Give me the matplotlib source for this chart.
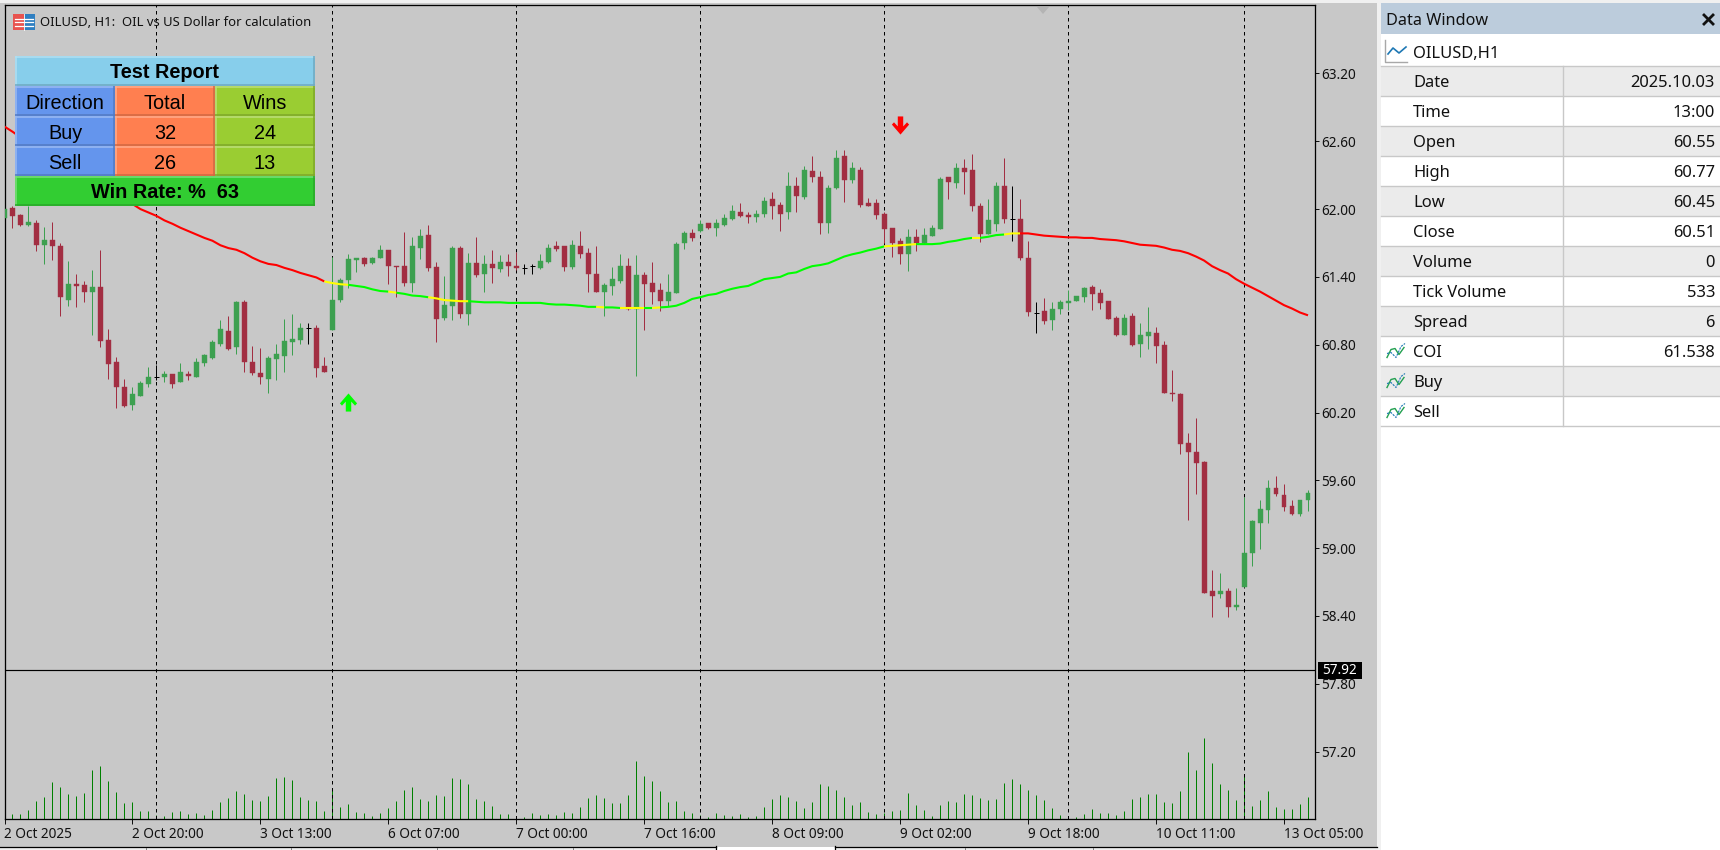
import numpy as np
import matplotlib
matplotlib.use('Agg')
from matplotlib import pyplot as plt
from matplotlib.colors import to_rgb
from matplotlib.path import Path
from matplotlib.patches import Rectangle, Polygon

# hourly bars, one per slot
open_prices = [
    61.92, 62.01, 61.95, 61.86, 61.88, 61.68, 61.73, 61.67, 61.20, 61.34,
    61.33, 61.27, 61.31, 60.84, 60.65, 60.43, 60.27, 60.35, 60.45, 60.51,
    60.51, 60.54, 60.47, 60.54, 60.51, 60.64, 60.68, 60.81, 60.92, 60.78,
    61.18, 60.65, 60.55, 60.50, 60.67, 60.70, 60.82, 60.84, 60.95, 60.95,
    60.61, 60.93, 61.20, 61.37, 61.55, 61.57, 61.52, 61.57, 61.64, 61.50,
    61.50, 61.35, 61.66, 61.77, 61.49, 61.04, 61.14, 61.66, 61.07, 61.52,
    61.43, 61.51, 61.47, 61.53, 61.50, 61.48, 61.50, 61.48, 61.53, 61.67,
    61.67, 61.49, 61.67, 61.61, 61.43, 61.27, 61.32, 61.36, 61.50, 61.12,
    61.42, 61.35, 61.28, 61.19, 61.26, 61.70, 61.79, 61.81, 61.88, 61.83,
    61.86, 61.91, 61.97, 61.95, 61.93, 61.96, 62.09, 62.04, 61.97, 62.20,
    62.11, 62.34, 62.28, 61.88, 62.19, 62.47, 62.26, 62.35, 62.05, 62.05,
    61.96, 61.83, 61.72, 61.60, 61.75, 61.70, 61.76, 61.82, 62.28, 62.23,
    62.36, 62.35, 62.03, 61.78, 61.87, 62.20, 61.91, 61.91, 61.57, 61.08,
    61.10, 61.02, 61.12, 61.17, 61.19, 61.22, 61.31, 61.26, 61.19, 61.04,
    60.89, 61.05, 60.81, 60.88, 60.90, 60.80, 60.37, 60.36, 59.93, 59.85,
    59.76, 58.62, 58.59, 58.62, 58.48, 58.66, 58.96, 59.22, 59.34, 59.53,
    59.47, 59.37, 59.30, 59.43]
close_prices = [
    62.00, 61.94, 61.86, 61.89, 61.68, 61.73, 61.67, 61.22, 61.34, 61.32,
    61.27, 61.31, 60.83, 60.63, 60.43, 60.26, 60.36, 60.46, 60.51, 60.51,
    60.54, 60.45, 60.56, 60.52, 60.65, 60.71, 60.82, 60.94, 60.76, 61.18,
    60.65, 60.55, 60.51, 60.68, 60.72, 60.83, 60.85, 60.95, 60.95, 60.59,
    60.56, 61.20, 61.37, 61.56, 61.57, 61.51, 61.57, 61.64, 61.50, 61.49,
    61.35, 61.67, 61.76, 61.48, 61.03, 61.15, 61.66, 61.07, 61.52, 61.42,
    61.51, 61.48, 61.53, 61.50, 61.48, 61.48, 61.50, 61.54, 61.66, 61.65,
    61.49, 61.68, 61.60, 61.43, 61.27, 61.33, 61.38, 61.50, 61.12, 61.42,
    61.34, 61.27, 61.19, 61.27, 61.69, 61.79, 61.74, 61.87, 61.83, 61.88,
    61.92, 61.98, 61.94, 61.93, 61.96, 62.07, 62.03, 61.96, 62.20, 62.12,
    62.35, 62.28, 61.88, 62.19, 62.45, 62.26, 62.36, 62.04, 62.03, 61.95,
    61.82, 61.70, 61.60, 61.75, 61.70, 61.77, 61.83, 62.27, 62.24, 62.36,
    62.33, 62.03, 61.78, 61.90, 62.20, 61.91, 61.91, 61.57, 61.09, 61.08,
    61.01, 61.12, 61.18, 61.19, 61.23, 61.30, 61.25, 61.17, 61.03, 60.89,
    61.04, 60.80, 60.89, 60.91, 60.79, 60.37, 60.36, 59.92, 59.85, 59.75,
    58.60, 58.58, 58.62, 58.48, 58.50, 58.96, 59.24, 59.35, 59.53, 59.48,
    59.36, 59.30, 59.43, 59.49]
high_prices = [
    62.02, 62.03, 61.96, 62.03, 61.90, 61.84, 61.89, 61.70, 61.54, 61.43,
    61.36, 61.46, 61.64, 60.94, 60.69, 60.50, 60.43, 60.48, 60.60, 60.62,
    60.57, 60.54, 60.64, 60.57, 60.68, 60.72, 60.84, 61.02, 61.05, 61.19,
    61.20, 60.79, 60.77, 60.70, 60.81, 61.03, 61.07, 60.99, 60.99, 60.97,
    60.69, 61.58, 61.39, 61.60, 61.57, 61.58, 61.58, 61.68, 61.64, 61.50,
    61.80, 61.75, 61.82, 61.86, 61.53, 61.41, 61.67, 61.67, 61.61, 61.75,
    61.59, 61.64, 61.59, 61.60, 61.62, 61.51, 61.51, 61.60, 61.69, 61.72,
    61.67, 61.73, 61.81, 61.66, 61.67, 61.35, 61.49, 61.60, 61.57, 61.59,
    61.44, 61.53, 61.35, 61.43, 61.71, 61.81, 61.82, 61.90, 61.88, 61.91,
    61.96, 62.04, 62.05, 61.97, 61.99, 62.11, 62.15, 62.06, 62.33, 62.28,
    62.38, 62.47, 62.34, 62.21, 62.52, 62.52, 62.42, 62.37, 62.10, 62.09,
    61.97, 61.83, 61.74, 61.82, 61.82, 61.83, 61.86, 62.28, 62.28, 62.41,
    62.44, 62.49, 62.05, 62.09, 62.24, 62.45, 62.20, 62.09, 61.72, 61.18,
    61.21, 61.18, 61.20, 61.28, 61.23, 61.31, 61.33, 61.29, 61.19, 61.05,
    61.07, 61.08, 60.99, 61.13, 60.96, 60.83, 60.58, 60.37, 60.02, 60.15,
    59.77, 58.81, 58.78, 58.65, 58.65, 59.45, 59.25, 59.43, 59.60, 59.64,
    59.57, 59.43, 59.43, 59.51]
low_prices = [
    61.92, 61.83, 61.85, 61.85, 61.63, 61.51, 61.55, 61.05, 61.14, 61.13,
    61.18, 60.89, 60.78, 60.50, 60.24, 60.25, 60.22, 60.35, 60.43, 60.49,
    60.47, 60.42, 60.47, 60.49, 60.51, 60.61, 60.67, 60.79, 60.75, 60.72,
    60.56, 60.53, 60.45, 60.37, 60.49, 60.56, 60.71, 60.81, 60.81, 60.51,
    60.56, 60.93, 61.18, 61.30, 61.44, 61.50, 61.51, 61.57, 61.34, 61.22,
    61.32, 61.27, 61.56, 61.45, 60.82, 61.02, 61.02, 61.04, 60.97, 61.40,
    61.27, 61.35, 61.44, 61.41, 61.46, 61.43, 61.43, 61.47, 61.52, 61.63,
    61.45, 61.47, 61.57, 61.27, 61.27, 61.05, 61.24, 61.35, 61.11, 60.52,
    60.93, 61.16, 61.10, 61.14, 61.26, 61.65, 61.72, 61.80, 61.82, 61.76,
    61.85, 61.90, 61.93, 61.88, 61.89, 61.93, 61.91, 61.81, 61.91, 61.97,
    62.09, 62.24, 61.78, 61.79, 62.18, 62.06, 62.23, 62.02, 62.03, 61.91,
    61.70, 61.58, 61.51, 61.45, 61.63, 61.69, 61.76, 61.82, 62.09, 62.19,
    62.13, 61.98, 61.71, 61.78, 61.81, 61.88, 61.72, 61.55, 61.05, 60.90,
    60.98, 60.93, 61.07, 61.11, 61.19, 61.18, 61.11, 61.12, 61.03, 60.88,
    60.89, 60.79, 60.69, 60.76, 60.64, 60.37, 60.30, 59.83, 59.25, 59.48,
    58.60, 58.39, 58.56, 58.39, 58.45, 58.66, 58.84, 58.99, 59.22, 59.46,
    59.33, 59.29, 59.28, 59.33]
tick_volume = [
    110, 155, 155, 272, 533, 650, 1086, 941, 737, 679,
    766, 1436, 1552, 1116, 795, 475, 504, 243, 243, 126,
    97, 213, 243, 155, 184, 126, 272, 504, 621, 825,
    737, 563, 533, 679, 1203, 1232, 1145, 650, 563, 533,
    243, 854, 359, 446, 213, 184, 97, 184, 330, 533,
    854, 941, 592, 533, 708, 679, 1203, 1174, 1028, 592,
    533, 388, 155, 155, 97, 68, 184, 126, 155, 126,
    213, 184, 359, 621, 708, 621, 475, 475, 708, 1698,
    1261, 1116, 825, 504, 533, 243, 184, 126, 68, 184,
    126, 97, 155, 68, 97, 359, 592, 708, 650, 533,
    330, 504, 1028, 970, 854, 650, 417, 504, 213, 155,
    184, 243, 272, 766, 417, 272, 97, 417, 533, 504,
    737, 708, 621, 563, 592, 1057, 1174, 1028, 854, 708,
    563, 330, 126, 97, 68, 155, 301, 184, 184, 126,
    243, 592, 650, 737, 737, 504, 475, 825, 1959, 1436,
    2367, 1639, 1028, 854, 563, 1319, 388, 563, 825, 359,
    301, 301, 446, 650]
coi_values = [
    62.73, 62.685, 62.635, 62.59, 62.55, 62.50, 62.46, 62.42, 62.37, 62.33,
    62.29, 62.24, 62.20, 62.16, 62.11, 62.07, 62.045, 62.00, 61.97, 61.94,
    61.90, 61.87, 61.835, 61.805, 61.775, 61.745, 61.72, 61.68, 61.655, 61.64,
    61.61, 61.57, 61.538, 61.515, 61.505, 61.48, 61.46, 61.435, 61.415, 61.395,
    61.36, 61.345, 61.335, 61.33, 61.32, 61.31, 61.29, 61.275, 61.27, 61.26,
    61.25, 61.235, 61.23, 61.22, 61.21, 61.195, 61.19, 61.185, 61.185, 61.18,
    61.175, 61.175, 61.175, 61.17, 61.17, 61.17, 61.17, 61.17, 61.16, 61.155,
    61.155, 61.15, 61.145, 61.135, 61.135, 61.13, 61.13, 61.125, 61.125, 61.125,
    61.125, 61.125, 61.13, 61.135, 61.145, 61.17, 61.205, 61.22, 61.24, 61.25,
    61.275, 61.295, 61.31, 61.32, 61.35, 61.38, 61.39, 61.40, 61.43, 61.44,
    61.47, 61.495, 61.505, 61.52, 61.55, 61.58, 61.60, 61.615, 61.635, 61.65,
    61.67, 61.675, 61.68, 61.685, 61.69, 61.69, 61.69, 61.695, 61.71, 61.72,
    61.735, 61.745, 61.745, 61.755, 61.77, 61.775, 61.785, 61.785, 61.785, 61.775,
    61.765, 61.76, 61.755, 61.75, 61.75, 61.745, 61.745, 61.735, 61.73, 61.725,
    61.715, 61.70, 61.685, 61.68, 61.675, 61.66, 61.64, 61.63, 61.61, 61.58,
    61.545, 61.495, 61.46, 61.43, 61.38, 61.34, 61.305, 61.27, 61.23, 61.19,
    61.15, 61.12, 61.085, 61.06]
# colour state of the COI line: (first bar, last bar, state)
coi_runs = [(0, 40, 'down'), (40, 43, 'flat'), (43, 48, 'up'), (48, 49, 'flat'),
            (49, 53, 'up'), (53, 58, 'flat'), (58, 74, 'up'), (74, 75, 'flat'),
            (75, 77, 'up'), (77, 80, 'flat'), (80, 81, 'up'), (81, 82, 'flat'),
            (82, 110, 'up'), (110, 114, 'flat'), (114, 121, 'up'), (121, 122, 'flat'),
            (122, 125, 'up'), (125, 127, 'flat'), (127, 163, 'down')]

period_breaks = [19, 41, 64, 87, 110, 133, 155]
price_ticks = [63.20, 62.60, 62.00, 61.40, 60.80, 60.20, 59.60, 59.00, 58.40, 57.80, 57.20]
time_ticks = [0, 16, 32, 48, 64, 80, 96, 112, 128, 144, 160]
time_labels = ['2 Oct 2025', '2 Oct 20:00', '3 Oct 13:00', '6 Oct 07:00', '7 Oct 00:00',
               '7 Oct 16:00', '8 Oct 09:00', '9 Oct 02:00', '9 Oct 18:00',
               '10 Oct 11:00', '13 Oct 05:00']
current_price = 57.92
buy_arrow = (43, 60.29)
sell_arrow = (112, 62.745)

report_title = 'Test Report'
report_header = ['Direction', 'Total', 'Wins']
report_rows = [['Buy', '32', '24'], ['Sell', '26', '13']]
report_footer = 'Win Rate: %  63'

dw_labels = ['Date', 'Time', 'Open', 'High', 'Low', 'Close', 'Volume', 'Tick Volume',
             'Spread', 'COI', 'Buy', 'Sell']
dw_values = ['2025.10.03', '13:00', '60.55', '60.77', '60.45', '60.51', '0', '533',
             '6', '61.538', '', '']

W, H = 1720, 850
GREY = '#C8C8C8'
FONT = 'Noto Sans'
BULL = '#3DA050'
BEAR = '#A22E42'
plt.rcParams['font.family'] = [FONT, 'DejaVu Sans']

fig = plt.figure(figsize=(W / 100, H / 100), dpi=100, facecolor='#F0F0F0')


def px_axes(left, top, right, bottom, z):
    a = fig.add_axes([left / W, 1 - bottom / H, (right - left) / W, (bottom - top) / H], zorder=z)
    return a


# window chrome behind the chart
bg = px_axes(0, 0, W, H, 0)
bg.set_xlim(0, W)
bg.set_ylim(H, 0)
bg.axis('off')
bg.add_patch(Rectangle((0, 3), 1377, 843.5, color=GREY, lw=0))

# price chart, axes limits line the price scale up with the pixels
left, top, right, bottom = 4.5, 5, 1315.3, 819
x_shift = 0.0625
vol = px_axes(left, top, right, bottom, 1)
ax = px_axes(left, top, right, bottom, 2)
bars = np.arange(len(open_prices))
opens = np.array(open_prices)
closes = np.array(close_prices)
highs = np.array(high_prices)
lows = np.array(low_prices)

ax.set_xlim(x_shift, (right - left) / 8 + x_shift)
ax.set_ylim(56.603, 63.806)
ax.patch.set_visible(False)
vol.set_xlim(x_shift, (right - left) / 8 + x_shift)
vol.set_ylim(0, 23687)
vol.set_facecolor(GREY)
vol.vlines(bars, 0, tick_volume, color='#008000', lw=0.72)
vol.set_xticks([])
vol.set_yticks([])

ax.vlines(period_breaks, 56.603, 63.806, color='black', lw=0.72, linestyles=(0, (3.5, 3.5)), zorder=1)
ax.axhline(current_price, color='black', lw=0.85, zorder=1)

up = closes > opens
down = closes < opens
doji = closes == opens
ax.vlines(bars[up], lows[up], highs[up], color=BULL, lw=0.72, zorder=2)
ax.vlines(bars[down], lows[down], highs[down], color=BEAR, lw=0.72, zorder=2)
ax.vlines(bars[doji], lows[doji], highs[doji], color='black', lw=0.72, zorder=2)
ax.hlines(closes[doji], bars[doji] - 0.3, bars[doji] + 0.3, color='black', lw=0.72, zorder=2)
ax.bar(bars[up], (closes - opens)[up], bottom=opens[up], width=0.62, color=BULL,
       edgecolor=BULL, lw=0.3, zorder=3)
ax.bar(bars[down], (opens - closes)[down], bottom=closes[down], width=0.62, color=BEAR,
       edgecolor=BEAR, lw=0.3, zorder=3)

run_colors = {'down': '#FF0000', 'flat': '#FFFF00', 'up': '#00FF00'}
for first, last, state in coi_runs:
    ax.plot(bars[first:last + 1], coi_values[first:last + 1], color=run_colors[state],
            lw=1.5, zorder=4, solid_capstyle='butt')

arrow = Path([(-0.3, -1), (0.3, -1), (0.3, 0.1), (0.72, -0.35), (0.95, -0.1), (0, 1),
              (-0.95, -0.1), (-0.72, -0.35), (-0.3, 0.1), (-0.3, -1)])
ax.scatter(*buy_arrow, marker=arrow, s=170, color='#00FF00', lw=0, zorder=5)
ax.scatter(*sell_arrow, marker=arrow.transformed(matplotlib.transforms.Affine2D().scale(1, -1)),
           s=170, color='#FF0000', lw=0, zorder=5)

ax.yaxis.tick_right()
ax.set_yticks(price_ticks)
ax.set_yticklabels(['%.2f' % p for p in price_ticks])
ax.set_xticks(time_ticks)
ax.set_xticklabels(time_labels, ha='left')
ax.tick_params(axis='y', length=3, width=0.72, pad=1.5, labelsize=9.8, colors='#111111')
ax.tick_params(axis='x', length=3.5, width=0.72, pad=2.5, labelsize=9.8, colors='#111111')
for s in ax.spines.values():
    s.set_linewidth(0.85)
    s.set_color('black')

# everything on top: report panel, data window
ui = px_axes(0, 0, W, H, 5)
ui.set_xlim(0, W)
ui.set_ylim(H, 0)
ui.axis('off')
ui.patch.set_visible(False)


def shade(color, f):
    r = np.array(to_rgb(color))
    if f > 1:
        return tuple(r + (1 - r) * (f - 1))
    return tuple(r * f)


def cell(x0, y0, x1, y1, color, text, bold=False):
    ui.add_patch(Rectangle((x0, y0), x1 - x0, y1 - y0, color=color, lw=0))
    lt = shade(color, 1.35)
    dk = shade(color, 0.82)
    ui.plot([x0 + 0.75, x0 + 0.75], [y0, y1], color=lt, lw=1.1, solid_capstyle='butt')
    ui.plot([x0, x1], [y0 + 0.75, y0 + 0.75], color=lt, lw=1.1, solid_capstyle='butt')
    ui.plot([x1 - 0.75, x1 - 0.75], [y0, y1], color=dk, lw=1.1, solid_capstyle='butt')
    ui.plot([x0, x1], [y1 - 0.75, y1 - 0.75], color=dk, lw=1.1, solid_capstyle='butt')
    ui.text((x0 + x1) / 2, (y0 + y1) / 2 + (1 if bold else 2), text, ha='center', va='center',
            color='black', family='Liberation Sans', fontsize=14.3,
            fontweight='bold' if bold else 'normal')


col_x = [15, 115, 215, 315]
col_colors = ['#6495ED', '#FF7F50', '#9ACD32']
cell(15, 56, 315, 86, '#87CEEB', report_title, True)
for j, name in enumerate(report_header):
    cell(col_x[j], 86, col_x[j + 1], 116, col_colors[j], name)
for r, row in enumerate(report_rows):
    for j, name in enumerate(row):
        cell(col_x[j], 116 + 30 * r, col_x[j + 1], 146 + 30 * r, col_colors[j], name)
cell(15, 176, 315, 206, '#32CD32', report_footer, True)

# chart caption with the little table icon
ui.add_patch(Rectangle((13, 14), 11, 16, color='#E8534F', lw=0))
ui.add_patch(Rectangle((24, 14), 11, 16, color='#2F7FC1', lw=0))
for yy in (18.5, 22, 25.5):
    ui.plot([15, 33], [yy, yy], color='white', lw=0.9)
ui.plot([24, 24], [14, 30], color='white', lw=0.6)
ui.text(40.5, 22, 'OILUSD, H1:  OIL vs US Dollar for calculation', va='center', fontsize=9.4,
        color='#111111')
ui.add_patch(Polygon([(1037, 7), (1049, 7), (1043, 14)], color='#B4B4B4', lw=0))

# current price flag
ui.add_patch(Rectangle((1318, 662), 44, 17, color='black', lw=0))
ui.text(1340, 670.5, '%.2f' % current_price, ha='center', va='center', color='white', fontsize=9.8)

# bottom tab strip
ui.plot([0, 715.5], [846.5, 846.5], color='black', lw=0.9)
ui.plot([834.8, 1377], [846.5, 846.5], color='black', lw=0.9)
ui.plot([715.5, 715.5], [846, 850], color='black', lw=0.9)
ui.plot([834.8, 834.8], [846, 850], color='black', lw=0.9)
ui.add_patch(Rectangle((716, 847), 118.5, 3, color='white', lw=0))
for xx in (146, 291, 437, 573, 965, 1093):
    ui.plot([xx, xx], [848, 850], color='#808080', lw=0.7)

# data window
ui.add_patch(Rectangle((1381, 3), W - 1381, H - 3, color='white', lw=0))
ui.add_patch(Rectangle((1381, 3), W - 1381, 31, color='#BCCCDC', lw=0))
ui.text(1385.5, 21, 'Data Window', va='center', fontsize=11.7, color='#111111')
ui.plot([1704, 1713], [15, 24], color='#111111', lw=2)
ui.plot([1704, 1713], [24, 15], color='#111111', lw=2)
ui.plot([1385, 1385, 1407], [40, 61.5, 61.5], color='#A8A8A8', lw=1)
ui.plot([1388, 1393, 1399, 1406], [54, 48, 53, 47], color='#1E78B4', lw=1.2)
ui.text(1413, 54, 'OILUSD,H1', va='center', fontsize=11.9, color='#111111')
row_h = 30
for n, name in enumerate(dw_labels):
    y0 = 65.5 + row_h * n
    if n % 2 == 0:
        ui.add_patch(Rectangle((1381, y0), W - 1381, row_h, color='#EBEBEB', lw=0))
    ui.plot([1381, W], [y0, y0], color='#C8C8C8', lw=1)
    ui.text(1413, y0 + 17.5, name, va='center', fontsize=11.9, color='#111111')
    ui.text(1715, y0 + 17.5, dw_values[n], va='center', ha='right', fontsize=11.9, color='#111111')
    if name in ('COI', 'Buy', 'Sell'):
        ui.plot([1387, 1391, 1395, 1399, 1404], [y0 + 22, y0 + 14, y0 + 13, y0 + 19, y0 + 12],
                color='#22A050', lw=1)
        ui.plot([1387, 1391, 1396, 1401, 1405], [y0 + 18, y0 + 17, y0 + 22, y0 + 11, y0 + 8],
                color='#1E78B4', lw=0.8, linestyle=(0, (2, 1)))
ui.plot([1381, W], [425.5, 425.5], color='#C8C8C8', lw=1)
ui.plot([1563, 1563], [65.5, 425.5], color='#C8C8C8', lw=1)

fig.savefig('out.png', dpi=100, facecolor=fig.get_facecolor())
